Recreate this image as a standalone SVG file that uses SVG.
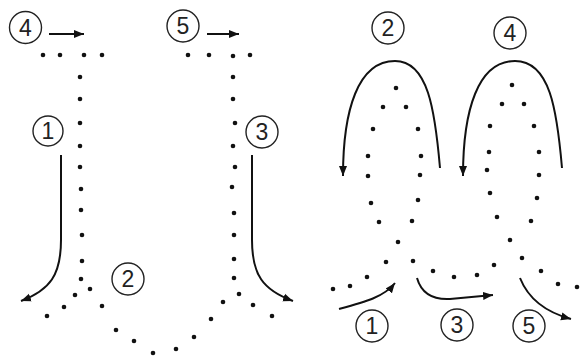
<svg xmlns="http://www.w3.org/2000/svg" width="582" height="358" viewBox="0 0 582 358">
<style>
.lab circle{fill:#fff;stroke:#222;stroke-width:1.4}
.lab text{font-family:"Liberation Sans",Arial,sans-serif;font-size:23px;fill:#222;text-anchor:middle}
.dots circle{fill:#111}
.conn path{fill:none;stroke:#111;stroke-width:2;marker-end:url(#ah)}
</style>
<defs>
<marker id="ah" markerUnits="userSpaceOnUse" markerWidth="12" markerHeight="10" refX="10" refY="5" orient="auto">
<path d="M0,1 L10,5 L0,9 Z" fill="#111"/>
</marker>
</defs>
<rect width="582" height="358" fill="#fff"/>
<g class="dots" id="dots-left">
<circle cx="43" cy="55" r="2.3"/><circle cx="60" cy="55" r="2.3"/><circle cx="84" cy="55" r="2.3"/><circle cx="102" cy="55" r="2.3"/>
<circle cx="80" cy="77" r="2.3"/><circle cx="80" cy="99" r="2.3"/><circle cx="80" cy="123" r="2.3"/><circle cx="80" cy="146" r="2.3"/><circle cx="80" cy="167" r="2.3"/>
<circle cx="81" cy="189" r="2.3"/><circle cx="81" cy="210" r="2.3"/><circle cx="82" cy="235" r="2.3"/><circle cx="82" cy="261" r="2.3"/><circle cx="81" cy="279" r="2.3"/>
<circle cx="75" cy="295" r="2.3"/><circle cx="64" cy="307" r="2.3"/><circle cx="47" cy="316" r="2.3"/>
<circle cx="90" cy="289" r="2.3"/><circle cx="102" cy="306" r="2.3"/><circle cx="116" cy="330" r="2.3"/><circle cx="134" cy="341" r="2.3"/><circle cx="153" cy="353" r="2.3"/><circle cx="176" cy="349" r="2.3"/><circle cx="194" cy="337" r="2.3"/><circle cx="211" cy="319" r="2.3"/><circle cx="223" cy="302" r="2.3"/>
<circle cx="188" cy="55" r="2.3"/><circle cx="209" cy="55" r="2.3"/><circle cx="233" cy="56" r="2.3"/><circle cx="250" cy="55" r="2.3"/>
<circle cx="233" cy="77" r="2.3"/><circle cx="233" cy="99" r="2.3"/><circle cx="235" cy="123" r="2.3"/><circle cx="233" cy="146" r="2.3"/><circle cx="235" cy="167" r="2.3"/>
<circle cx="232" cy="187" r="2.3"/><circle cx="234" cy="213" r="2.3"/><circle cx="234" cy="235" r="2.3"/><circle cx="234" cy="259" r="2.3"/><circle cx="234" cy="278" r="2.3"/>
<circle cx="239" cy="294" r="2.3"/><circle cx="253" cy="305" r="2.3"/><circle cx="272" cy="316" r="2.3"/>
</g>
<g class="dots" id="dots-right">
<circle cx="396" cy="88" r="2.3"/><circle cx="383" cy="107" r="2.3"/><circle cx="406" cy="107" r="2.3"/><circle cx="373" cy="129" r="2.3"/><circle cx="418" cy="129" r="2.3"/><circle cx="368" cy="156" r="2.3"/><circle cx="421" cy="156" r="2.3"/><circle cx="368" cy="176" r="2.3"/><circle cx="420" cy="175" r="2.3"/>
<circle cx="371" cy="203" r="2.3"/><circle cx="379" cy="222" r="2.3"/><circle cx="398" cy="242" r="2.3"/><circle cx="413" cy="261" r="2.3"/><circle cx="433" cy="271" r="2.3"/><circle cx="454" cy="277" r="2.3"/><circle cx="477" cy="275" r="2.3"/><circle cx="494" cy="265" r="2.3"/>
<circle cx="418" cy="200" r="2.3"/><circle cx="412" cy="221" r="2.3"/><circle cx="386" cy="262" r="2.3"/><circle cx="367" cy="277" r="2.3"/><circle cx="350" cy="286" r="2.3"/><circle cx="333" cy="289" r="2.3"/>
<circle cx="512" cy="85" r="2.3"/><circle cx="502" cy="104" r="2.3"/><circle cx="524" cy="104" r="2.3"/><circle cx="490" cy="126" r="2.3"/><circle cx="534" cy="126" r="2.3"/><circle cx="489" cy="152" r="2.3"/><circle cx="539" cy="152" r="2.3"/><circle cx="487" cy="170" r="2.3"/><circle cx="539" cy="175" r="2.3"/>
<circle cx="490" cy="193" r="2.3"/><circle cx="497" cy="217" r="2.3"/><circle cx="510" cy="240" r="2.3"/><circle cx="522" cy="258" r="2.3"/><circle cx="541" cy="271" r="2.3"/><circle cx="558" cy="284" r="2.3"/><circle cx="577" cy="287" r="2.3"/>
<circle cx="537" cy="198" r="2.3"/><circle cx="531" cy="221" r="2.3"/>
</g>
<g class="conn" id="connectors">
<path d="M49,34 L84,34"/>
<path d="M207,34 L239,34"/>
<path d="M61,155 L61,240 C61,275 50,290 21,301"/>
<path d="M252,155 L252,240 C252,275 263,290 293,301"/>
<path d="M440,168 C435,110 428,61 395,61 C358,61 343,110 343,176"/>
<path d="M562,168 C557,110 550,61 515,61 C478,61 463,110 463,176"/>
<path d="M339,309 C365,302 384,297 395,283"/>
<path d="M417,278 C421,292 431,300 450,299 L493,295"/>
<path d="M520,278 C528,298 545,312 571,319"/>
</g>
<g class="lab" id="n-l4"><circle cx="25.5" cy="27.5" r="16"/><text x="25.5" y="35.5">4</text></g>
<g class="lab" id="n-l5"><circle cx="183" cy="26" r="16"/><text x="183" y="34">5</text></g>
<g class="lab" id="n-l1"><circle cx="48" cy="131" r="15"/><text x="48" y="139">1</text></g>
<g class="lab" id="n-l3"><circle cx="262" cy="132" r="16"/><text x="262" y="140">3</text></g>
<g class="lab" id="n-l2"><circle cx="128" cy="279" r="16"/><text x="128" y="287">2</text></g>
<g class="lab" id="n-r2"><circle cx="388" cy="28" r="16"/><text x="388" y="36">2</text></g>
<g class="lab" id="n-r4"><circle cx="510" cy="33" r="16"/><text x="510" y="41">4</text></g>
<g class="lab" id="n-r1"><circle cx="372" cy="326" r="16"/><text x="372" y="334">1</text></g>
<g class="lab" id="n-r3"><circle cx="457" cy="325" r="16"/><text x="457" y="333">3</text></g>
<g class="lab" id="n-r5"><circle cx="529" cy="326" r="16"/><text x="529" y="334">5</text></g>
</svg>
